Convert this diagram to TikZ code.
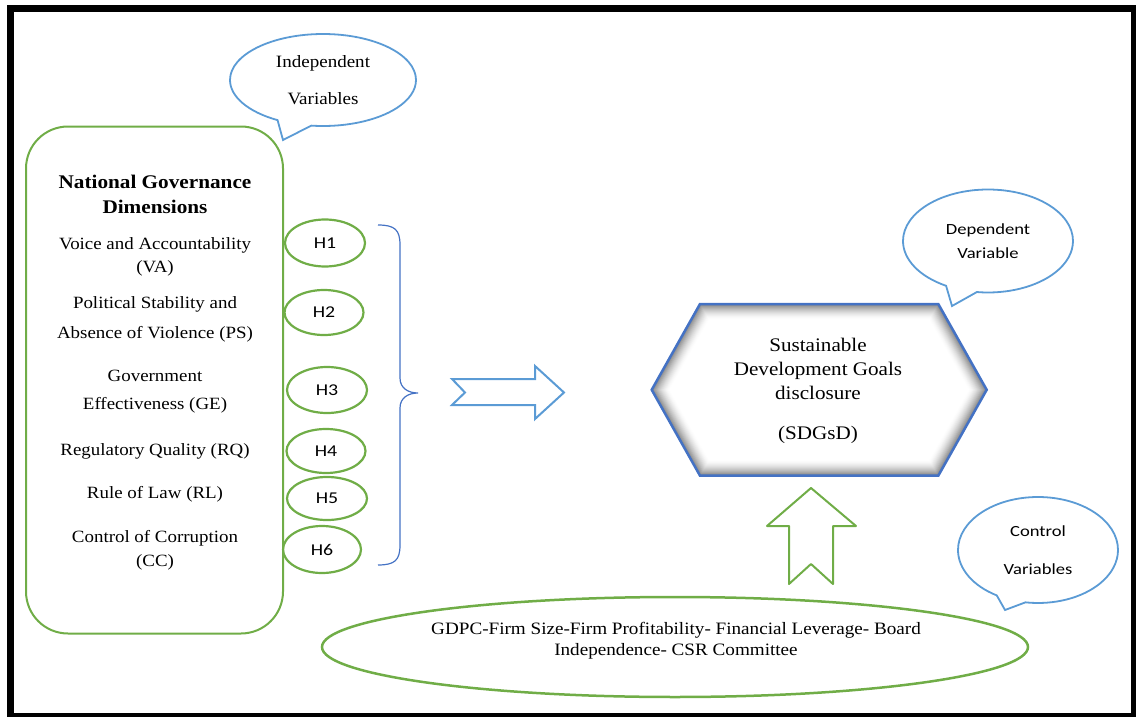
\documentclass[tikz,border=0pt]{standalone}
\usepackage{fontspec}
\setmainfont{Liberation Serif}[FakeStretch=1.1]
\newfontfamily\calib{Carlito}[FakeStretch=1.2]
\usetikzlibrary{shapes.geometric,shapes.callouts}
\definecolor{ogreen}{HTML}{70AD47}
\definecolor{lblue}{HTML}{5B9BD5}
\definecolor{dblue}{HTML}{4472C4}
\tikzset{
  txt/.style={align=center,inner sep=0pt,font=\fontsize{17.2}{23}\selectfont},
  hyp/.style={ellipse,draw=ogreen,line width=2.2pt,minimum width=79pt,minimum height=45pt,inner sep=0pt,font=\calib\fontsize{16.5}{18}\selectfont},
  bubble/.style={ellipse callout,draw=lblue,line width=1.8pt,fill=white,inner sep=0pt,align=center,callout pointer arc=22},
  greenline/.style={draw=ogreen,line width=2pt,line join=round},
  blueline/.style={draw=lblue,line width=2pt,line join=miter},
}
\begin{document}
\begin{tikzpicture}[x=1pt,y=-1pt]
\useasboundingbox (0,0) rectangle (1136,717);
% outer frame
\draw[line width=7pt] (10.5,8.5) rectangle (1134,716);

% left box
\node[draw=ogreen,line width=2pt,rounded corners=42pt,minimum width=257pt,minimum height=507pt,inner sep=0pt] (ngbox) at (154.5,380) {};
\node[txt,font=\bfseries\fontsize{19.3}{25}\selectfont] (ng) at (155,194.5) {National Governance\\Dimensions};
\node[txt] (va) at (155,256.5) {Voice and Accountability\\(VA)};
\node[txt,font=\fontsize{17.2}{30}\selectfont] (ps) at (155,319) {Political Stability and\\Absence of Violence (PS)};
\node[txt,font=\fontsize{17.2}{28}\selectfont] (ge) at (155,392) {Government\\Effectiveness (GE)};
\node[txt] (rq) at (155,451) {Regulatory Quality (RQ)};
\node[txt] (rl) at (155,494) {Rule of Law (RL)};
\node[txt,font=\fontsize{17.2}{24}\selectfont] (cc) at (155,550) {Control of Corruption\\(CC)};

% hypotheses
\node[hyp,minimum width=80pt,minimum height=47pt] (h1) at (325,243) {H1};
\node[hyp] (h2) at (324,312.5) {H2};
\node[hyp,minimum width=80pt,minimum height=46pt] (h3) at (327,390) {H3};
\node[hyp,minimum height=44pt] (h4) at (326,451) {H4};
\node[hyp,minimum width=80pt,minimum height=43pt] (h5) at (327,498.5) {H5};
\node[hyp,minimum width=78pt,minimum height=47pt] (h6) at (322,549.5) {H6};

% brace
\draw[dblue,line width=1.2pt] (378,225) .. controls (395,225) and (400,230) .. (400,245)
  -- (400,378) .. controls (400,388) and (408,393) .. (418,393)
  .. controls (408,393) and (400,398) .. (400,408)
  -- (400,545) .. controls (400,560) and (395,565) .. (378,565);

% right block arrow
\draw[blueline] (452,379) -- (535,379) -- (535,366) -- (564,392.5) -- (535,419) -- (535,405) -- (452,405) -- (465,392.5) -- cycle;

% hexagon with inner shadow
\coordinate (hA) at (700,304);
\coordinate (hB) at (938.3,304);
\coordinate (hC) at (986.7,389.8);
\coordinate (hD) at (938.3,475.7);
\coordinate (hE) at (700,475.7);
\coordinate (hF) at (651.7,389.8);
\begin{scope}
  \clip (hA) -- (hB) -- (hC) -- (hD) -- (hE) -- (hF) -- cycle;
  \fill[white] (hA) -- (hB) -- (hC) -- (hD) -- (hE) -- (hF) -- cycle;
  \foreach \w in {30,28,...,2} {
    \pgfmathsetmacro{\shade}{52*(1-\w/32)^1.6}
    \draw[black!\shade,line width=\w pt,line join=miter] (hA) -- (hB) -- (hC) -- (hD) -- (hE) -- (hF) -- cycle;
  }
\end{scope}
\draw[dblue,line width=2.5pt,line join=miter] (hA) -- (hB) -- (hC) -- (hD) -- (hE) -- (hF) -- cycle;
\node[txt,font=\fontsize{19.2}{24}\selectfont] (sdg) at (818,391) {Sustainable\\Development Goals\\disclosure\\[16pt](SDGsD)};

% up block arrow
\draw[greenline] (811,488) -- (856,526) -- (833,526) -- (833,584) -- (811,564) -- (789,584) -- (789,526) -- (767,526) -- cycle;

% controls ellipse
\node[ellipse,draw=ogreen,line width=2.5pt,minimum width=706pt,minimum height=100pt,inner sep=0pt] (ctrl) at (675,647) {};
\node[txt,font=\fontsize{17.4}{21}\selectfont] (ctrltxt) at (676,640.5) {GDPC-Firm Size-Firm Profitability- Financial Leverage- Board\\Independence- CSR Committee};

% speech bubbles
\node[bubble,minimum width=186pt,minimum height=92pt,callout absolute pointer={(283,140)},font=\fontsize{17.3}{37}\selectfont] (indep) at (323,80) {Independent\\Variables};
\node[bubble,minimum width=170pt,minimum height=103pt,callout absolute pointer={(952,306)},font=\calib\fontsize{15.5}{24}\selectfont] (dep) at (988,241) {Dependent\\Variable};
\node[bubble,minimum width=160pt,minimum height=106pt,callout absolute pointer={(1005,610)},font=\calib\fontsize{15.5}{38}\selectfont] (ctl) at (1038,550) {Control\\Variables};
\end{tikzpicture}
\end{document}
